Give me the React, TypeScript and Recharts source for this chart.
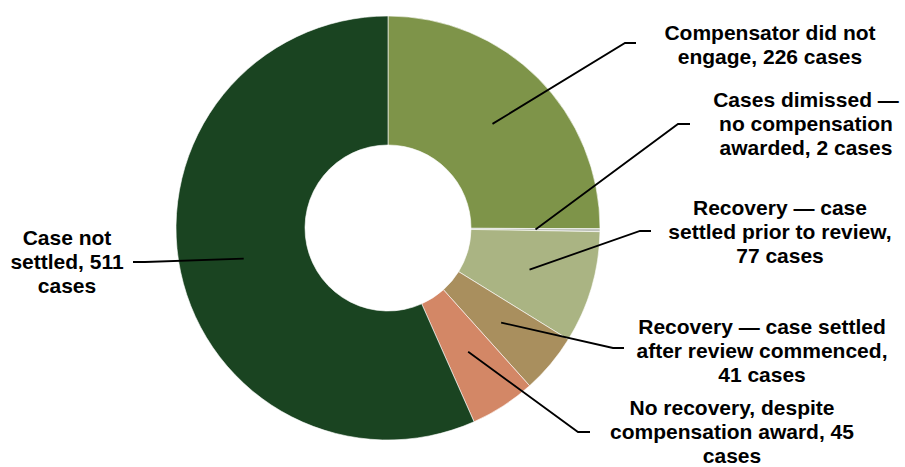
import { PieChart, Pie, Cell } from "recharts";

// outcomes, clockwise from 12 o'clock
const categories = [
  "Compensator did not engage",
  "Cases dimissed — no compensation awarded",
  "Recovery — case settled prior to review",
  "Recovery — case settled after review commenced",
  "No recovery, despite compensation award",
  "Case not settled",
];
const caseCounts = [226, 2, 77, 41, 45, 511];
const sliceColors = ["#7E9449", "#BDC0B8", "#AAB483", "#A98F5E", "#D38766", "#1A4421"];

// wrapped label text, as printed on the chart
const labelText = [
  ["Compensator did not", "engage, 226 cases"],
  ["Cases dimissed  —", "no compensation", "awarded, 2 cases"],
  ["Recovery — case", "settled prior to review,", "77 cases"],
  ["Recovery — case settled", "after review commenced,", "41 cases"],
  ["No recovery, despite", "compensation award, 45", "cases"],
  ["Case not", "settled, 511", "cases"],
];

// where each callout goes: elbow of leader, end of leader, text centre, first baseline
const calloutLayout = [
  { elbow: [625, 43], end: [636, 43], tx: 770, ty: 40 },
  { elbow: [678, 124], end: [690, 124], tx: 806, ty: 107 },
  { elbow: [640, 231], end: [651, 231], tx: 780, ty: 215 },
  { elbow: [613, 348], end: [624, 348], tx: 762, ty: 334 },
  { elbow: [578, 432], end: [590, 432], tx: 732, ty: 415 },
  { elbow: [145, 262], end: [133, 262], tx: 67, ty: 245 },
];

const tableData = categories.map((name, i) => ({ name, value: caseCounts[i] }));

const RADIAN = Math.PI / 180;

function renderCallout(props: any) {
  const { cx, cy, midAngle, innerRadius, outerRadius, index } = props;
  const r = (innerRadius + outerRadius) / 2;
  const ax = cx + r * Math.cos(-midAngle * RADIAN);
  const ay = cy + r * Math.sin(-midAngle * RADIAN);
  const lay = calloutLayout[index];
  const lines = labelText[index];
  return (
    <g key={`callout-${index}`}>
      <polyline
        points={`${ax},${ay} ${lay.elbow[0]},${lay.elbow[1]} ${lay.end[0]},${lay.end[1]}`}
        fill="none"
        stroke="#000"
        strokeWidth={1.8}
      />
      <text
        x={lay.tx}
        y={lay.ty}
        textAnchor="middle"
        fill="#000"
        fontFamily="'Liberation Sans', Arial, sans-serif"
        fontWeight="bold"
        fontSize={21}
      >
        {lines.map((ln, j) => (
          <tspan key={j} x={lay.tx} dy={j === 0 ? 0 : 24}>
            {ln}
          </tspan>
        ))}
      </text>
    </g>
  );
}

export default function App() {
  return (
    <div style={{ position: "absolute", left: 0, top: 0, background: "#fff" }}>
      <PieChart width={905} height={467} margin={{ top: 0, right: 0, bottom: 0, left: 0 }}>
        <Pie
          data={tableData}
          dataKey="value"
          nameKey="name"
          cx={388}
          cy={228}
          innerRadius={83}
          outerRadius={212}
          startAngle={90}
          endAngle={-270}
          stroke="#ffffff"
          strokeWidth={0.6}
          label={renderCallout}
          labelLine={false}
          isAnimationActive={false}
        >
          {tableData.map((d, i) => (
            <Cell key={d.name} fill={sliceColors[i]} />
          ))}
        </Pie>
      </PieChart>
    </div>
  );
}
